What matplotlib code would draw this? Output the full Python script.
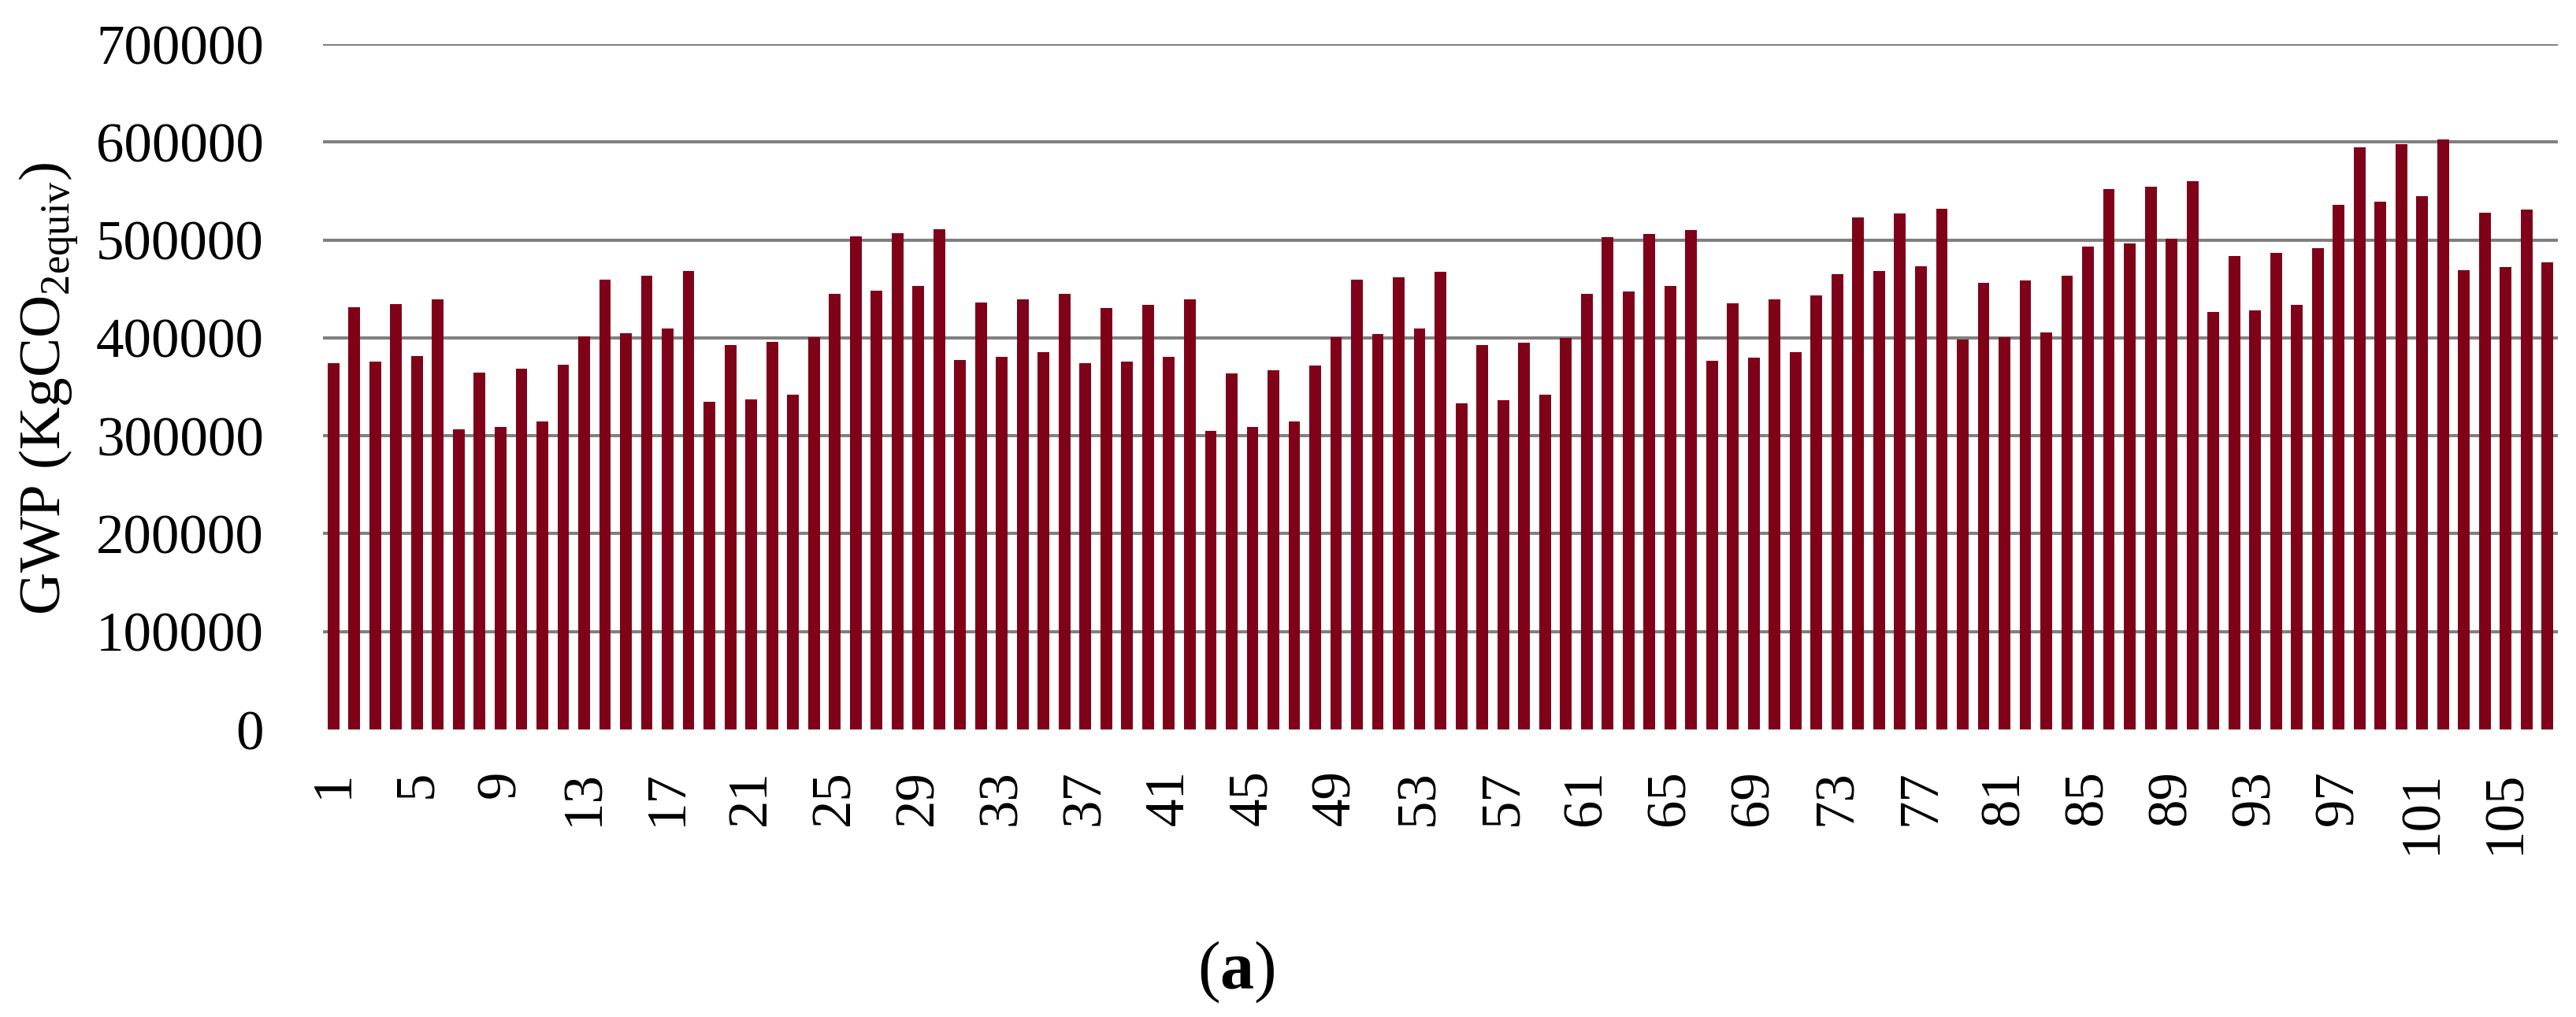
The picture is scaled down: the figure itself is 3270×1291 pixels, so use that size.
import matplotlib
matplotlib.use("Agg")
import matplotlib.pyplot as plt
import numpy as np

plt.rcParams['font.family'] = ['Liberation Serif', 'DejaVu Serif']
plt.rcParams['mathtext.fontset'] = 'custom'
plt.rcParams['mathtext.rm'] = 'Liberation Serif'
plt.rcParams['mathtext.bf'] = 'Liberation Serif:bold'

# GWP per scenario (kg CO2 equiv)
cases = np.arange(1, 108)
gwp = [373800, 431300, 375900, 434900, 381500, 439500, 306200, 364600, 309200, 368200,
       314400, 372800, 401500, 459500, 405100, 463100, 409700, 468700, 334400, 392800,
       337400, 395900, 342000, 401000, 445100, 504100, 448200, 507200, 453300, 511300,
       377400, 436400, 381000, 439000, 385600, 444600, 373800, 430800, 375900, 433800,
       381000, 439500, 305100, 364100, 308700, 367200, 314400, 371800, 401000, 459500,
       404100, 462100, 409200, 467700, 333300, 392300, 336400, 395400, 342000, 400000,
       444600, 503100, 447700, 506100, 453300, 510300, 376900, 435400, 380000, 439000,
       385100, 443600, 465100, 523100, 468700, 526700, 473300, 531800, 397900, 455900,
       401000, 459000, 405600, 463600, 493300, 552300, 496400, 554400, 501500, 560000,
       426100, 483600, 428200, 487200, 433800, 491800, 535900, 594900, 539500, 597900,
       545100, 602600, 469200, 528200, 472300, 531300, 477400]
yticks = [0, 100000, 200000, 300000, 400000, 500000, 600000, 700000]
xlabels_at = cases[::4]

fig = plt.figure(figsize=(32.7, 12.91), dpi=100)
ax = fig.add_axes([0.1254, 0.2827, 0.8676, 0.6739])

ax.bar(cases, gwp, width=0.56, color='#7f0219', zorder=3)

ax.set_xlim(0.5, 107.5)
ax.set_ylim(0, 700000)
ax.set_yticks(yticks)
ax.set_yticklabels([str(v) for v in yticks])
ax.set_xticks(xlabels_at)
ax.set_xticklabels([str(v) for v in xlabels_at], rotation=90)
ax.tick_params(axis='y', length=0, pad=54, labelsize=51)
ax.tick_params(axis='x', length=0, pad=37, labelsize=51)

for y in yticks[1:]:
    ax.axhline(y, color='#808080', lw=2.9, zorder=1)
for s in ax.spines.values():
    s.set_visible(False)

fig.text(0.0191, 0.618, r'GWP (KgCO$_{\mathrm{2equiv}}$)', rotation=90,
         ha='center', va='center', fontsize=54)
fig.text(0.4798, 0.044, r'($\mathbf{a}$)', ha='center', va='center', fontsize=62)

fig.savefig('out.png', dpi=100)
